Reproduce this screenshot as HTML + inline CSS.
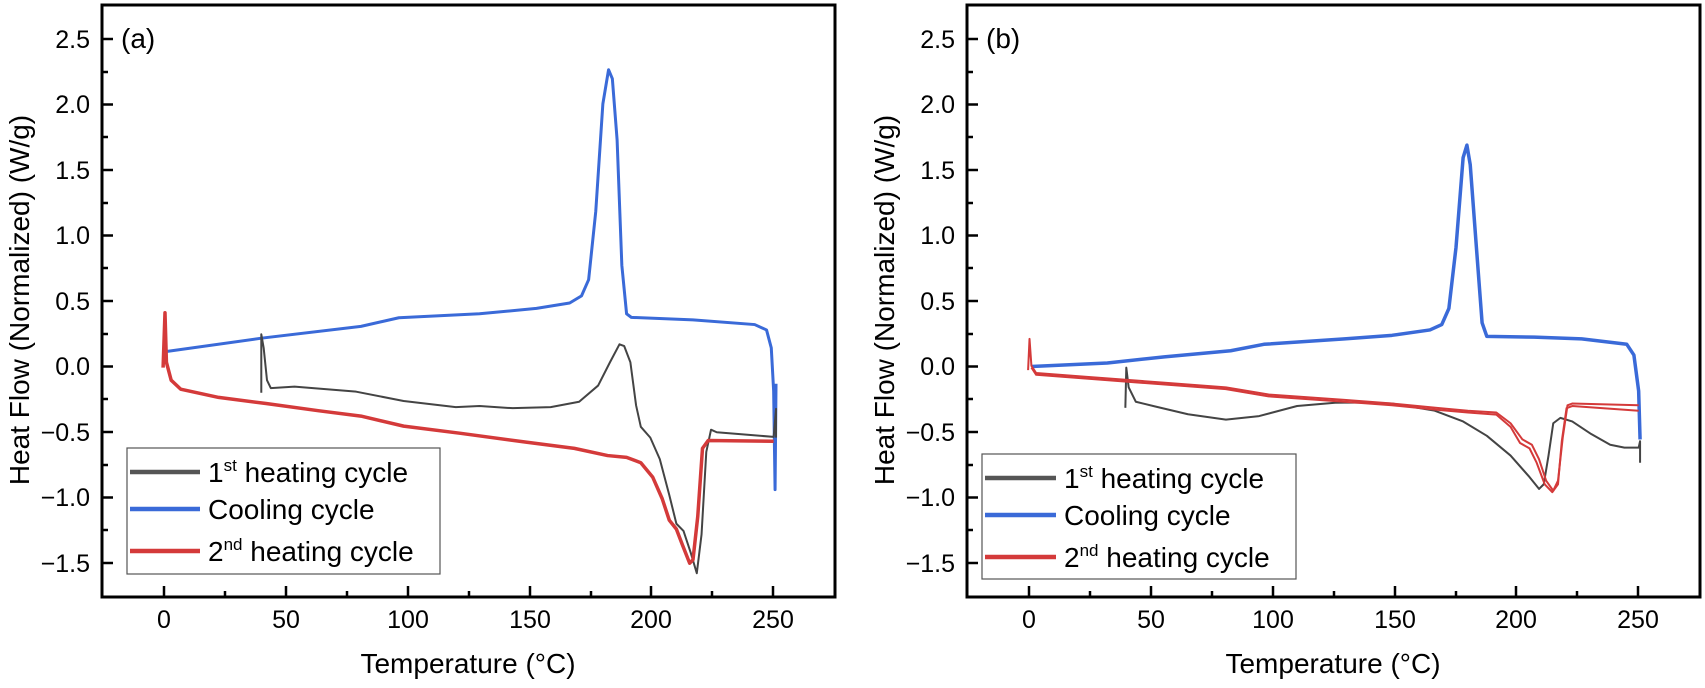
<!DOCTYPE html>
<html><head><meta charset="utf-8"><style>
html,body{margin:0;padding:0;background:#fff}
svg{display:block;font-family:"Liberation Sans",Arial,sans-serif}
</style></head><body>
<svg width="1705" height="688" viewBox="0 0 1705 688" xmlns="http://www.w3.org/2000/svg">
<defs>
<g id="ticks">
  <g stroke="#000" stroke-width="2.5">
    <line x1="164" y1="597" x2="164" y2="586"/><line x1="225" y1="597" x2="225" y2="591"/>
    <line x1="286" y1="597" x2="286" y2="586"/><line x1="347" y1="597" x2="347" y2="591"/>
    <line x1="408" y1="597" x2="408" y2="586"/><line x1="469" y1="597" x2="469" y2="591"/>
    <line x1="530" y1="597" x2="530" y2="586"/><line x1="591" y1="597" x2="591" y2="591"/>
    <line x1="651" y1="597" x2="651" y2="586"/><line x1="712" y1="597" x2="712" y2="591"/>
    <line x1="773" y1="597" x2="773" y2="586"/>
    <line x1="102" y1="39" x2="113" y2="39"/><line x1="102" y1="72" x2="108" y2="72"/>
    <line x1="102" y1="104.5" x2="113" y2="104.5"/><line x1="102" y1="137" x2="108" y2="137"/>
    <line x1="102" y1="170" x2="113" y2="170"/><line x1="102" y1="203" x2="108" y2="203"/>
    <line x1="102" y1="235.5" x2="113" y2="235.5"/><line x1="102" y1="268" x2="108" y2="268"/>
    <line x1="102" y1="301" x2="113" y2="301"/><line x1="102" y1="334" x2="108" y2="334"/>
    <line x1="102" y1="366.5" x2="113" y2="366.5"/><line x1="102" y1="399" x2="108" y2="399"/>
    <line x1="102" y1="432" x2="113" y2="432"/><line x1="102" y1="465" x2="108" y2="465"/>
    <line x1="102" y1="497.5" x2="113" y2="497.5"/><line x1="102" y1="530" x2="108" y2="530"/>
    <line x1="102" y1="563" x2="113" y2="563"/>
  </g>
  <rect x="102" y="5" width="733" height="592" fill="none" stroke="#000" stroke-width="3"/>
  <g font-size="25" text-anchor="end" fill="#000">
    <text x="90" y="48">2.5</text><text x="90" y="113">2.0</text><text x="90" y="179">1.5</text>
    <text x="90" y="244">1.0</text><text x="90" y="310">0.5</text><text x="90" y="375">0.0</text>
    <text x="90" y="441">−0.5</text><text x="90" y="506">−1.0</text><text x="90" y="572">−1.5</text>
  </g>
  <g font-size="25" text-anchor="middle" fill="#000">
    <text x="164" y="628">0</text><text x="286" y="628">50</text><text x="408" y="628">100</text>
    <text x="530" y="628">150</text><text x="651" y="628">200</text><text x="773" y="628">250</text>
  </g>
  <text x="468" y="673" font-size="28" text-anchor="middle">Temperature (°C)</text>
  <text transform="translate(29,300) rotate(-90)" font-size="28" text-anchor="middle">Heat Flow (Normalized) (W/g)</text>
</g>
</defs>

<use href="#ticks"/>
<use href="#ticks" x="865"/>
<text x="121" y="48" font-size="28">(a)</text>
<text x="986" y="48" font-size="28">(b)</text>

<!-- Panel a curves -->
<g transform="translate(100,50) scale(0.4744,0.3589)" fill="none" stroke-linejoin="round">
  <path vector-effect="non-scaling-stroke" stroke="#3a6ad8" stroke-width="3" d="M140,840 L340,803 L550,770 L630,746 L800,735 L920,720 L990,705 L1015,685 L1030,640 L1045,450 L1060,150 L1072,55 L1080,80 L1090,250 L1100,600 L1110,735 L1120,745 L1250,752 L1380,765 L1405,780 L1415,830 L1420,950 L1423,1225 L1425,930"/>
  <path vector-effect="non-scaling-stroke" stroke="#444" stroke-width="2" d="M340,955 L340,792 L345,830 L352,920 L360,942 L410,938 L540,952 L640,978 L750,995 L800,992 L870,998 L950,995 L1010,980 L1050,935 L1075,870 L1095,820 L1105,825 L1118,870 L1130,990 L1140,1050 L1160,1080 L1180,1140 L1200,1240 L1215,1320 L1230,1340 L1245,1400 L1258,1458 L1268,1350 L1278,1120 L1288,1058 L1300,1065 L1420,1078 L1425,1000 L1425,1080"/>
  <path vector-effect="non-scaling-stroke" stroke="#d43a3a" stroke-width="3.5" d="M133,885 L137,732 L140,870 L150,920 L170,945 L250,968 L350,985 L460,1005 L550,1020 L640,1048 L760,1068 L900,1093 L1000,1110 L1070,1130 L1110,1135 L1140,1150 L1165,1190 L1185,1250 L1200,1310 L1215,1335 L1228,1380 L1243,1430 L1250,1420 L1260,1300 L1270,1110 L1282,1088 L1420,1090"/>
</g>

<!-- Panel b curves -->
<g transform="translate(965,50) scale(0.4744,0.3589)" fill="none" stroke-linejoin="round">
  <path vector-effect="non-scaling-stroke" stroke="#3a6ad8" stroke-width="3.5" d="M140,882 L300,872 L420,855 L560,838 L630,820 L800,805 L900,795 L980,780 L1005,765 L1020,720 L1035,550 L1050,300 L1058,265 L1065,320 L1078,550 L1090,760 L1100,798 L1200,800 L1300,805 L1395,820 L1410,850 L1420,950 L1423,1085"/>
  <path vector-effect="non-scaling-stroke" stroke="#444" stroke-width="2" d="M338,997 L340,885 L345,940 L360,980 L400,993 L470,1015 L550,1030 L620,1020 L700,992 L780,983 L820,982 L900,985 L990,1005 L1050,1035 L1100,1075 L1150,1130 L1190,1190 L1210,1223 L1220,1210 L1230,1130 L1240,1040 L1255,1025 L1280,1035 L1320,1070 L1360,1100 L1390,1108 L1420,1108 L1423,1090 L1423,1150"/>
  <path vector-effect="non-scaling-stroke" stroke="#d43a3a" stroke-width="2" d="M133,892 L136,805 L140,880 L150,900 L250,910 L400,925 L550,940 L640,960 L800,975 L900,985 L1000,998 L1060,1005 L1120,1010 L1150,1040 L1175,1085 L1195,1100 L1210,1140 L1225,1200 L1240,1228 L1250,1200 L1260,1080 L1270,990 L1280,985 L1420,990"/>
  <path vector-effect="non-scaling-stroke" stroke="#d43a3a" stroke-width="2" d="M140,885 L150,905 L250,915 L400,930 L550,945 L640,965 L800,980 L900,990 L1000,1003 L1060,1010 L1120,1016 L1150,1050 L1170,1095 L1190,1110 L1205,1150 L1222,1210 L1238,1232 L1250,1210 L1258,1090 L1268,998 L1280,992 L1420,1005"/>
</g>

<!-- Legends -->
<g font-size="28" fill="#000">
  <rect x="127" y="448" width="313" height="126" fill="#fff" stroke="#555" stroke-width="1.2"/>
  <line x1="130" y1="472" x2="200" y2="472" stroke="#555" stroke-width="4.5"/>
  <line x1="130" y1="509" x2="200" y2="509" stroke="#3a6ad8" stroke-width="4.5"/>
  <line x1="130" y1="551" x2="200" y2="551" stroke="#d43a3a" stroke-width="4.5"/>
  <text x="208" y="482">1<tspan font-size="17" dy="-11">st</tspan><tspan dy="11"> heating cycle</tspan></text>
  <text x="208" y="519">Cooling cycle</text>
  <text x="208" y="561">2<tspan font-size="17" dy="-11">nd</tspan><tspan dy="11"> heating cycle</tspan></text>

  <rect x="982" y="454" width="314" height="125" fill="#fff" stroke="#555" stroke-width="1.2"/>
  <line x1="985" y1="478" x2="1056" y2="478" stroke="#555" stroke-width="4.5"/>
  <line x1="985" y1="515" x2="1056" y2="515" stroke="#3a6ad8" stroke-width="4.5"/>
  <line x1="985" y1="557" x2="1056" y2="557" stroke="#d43a3a" stroke-width="4.5"/>
  <text x="1064" y="488">1<tspan font-size="17" dy="-11">st</tspan><tspan dy="11"> heating cycle</tspan></text>
  <text x="1064" y="525">Cooling cycle</text>
  <text x="1064" y="567">2<tspan font-size="17" dy="-11">nd</tspan><tspan dy="11"> heating cycle</tspan></text>
</g>
</svg>
</body></html>
